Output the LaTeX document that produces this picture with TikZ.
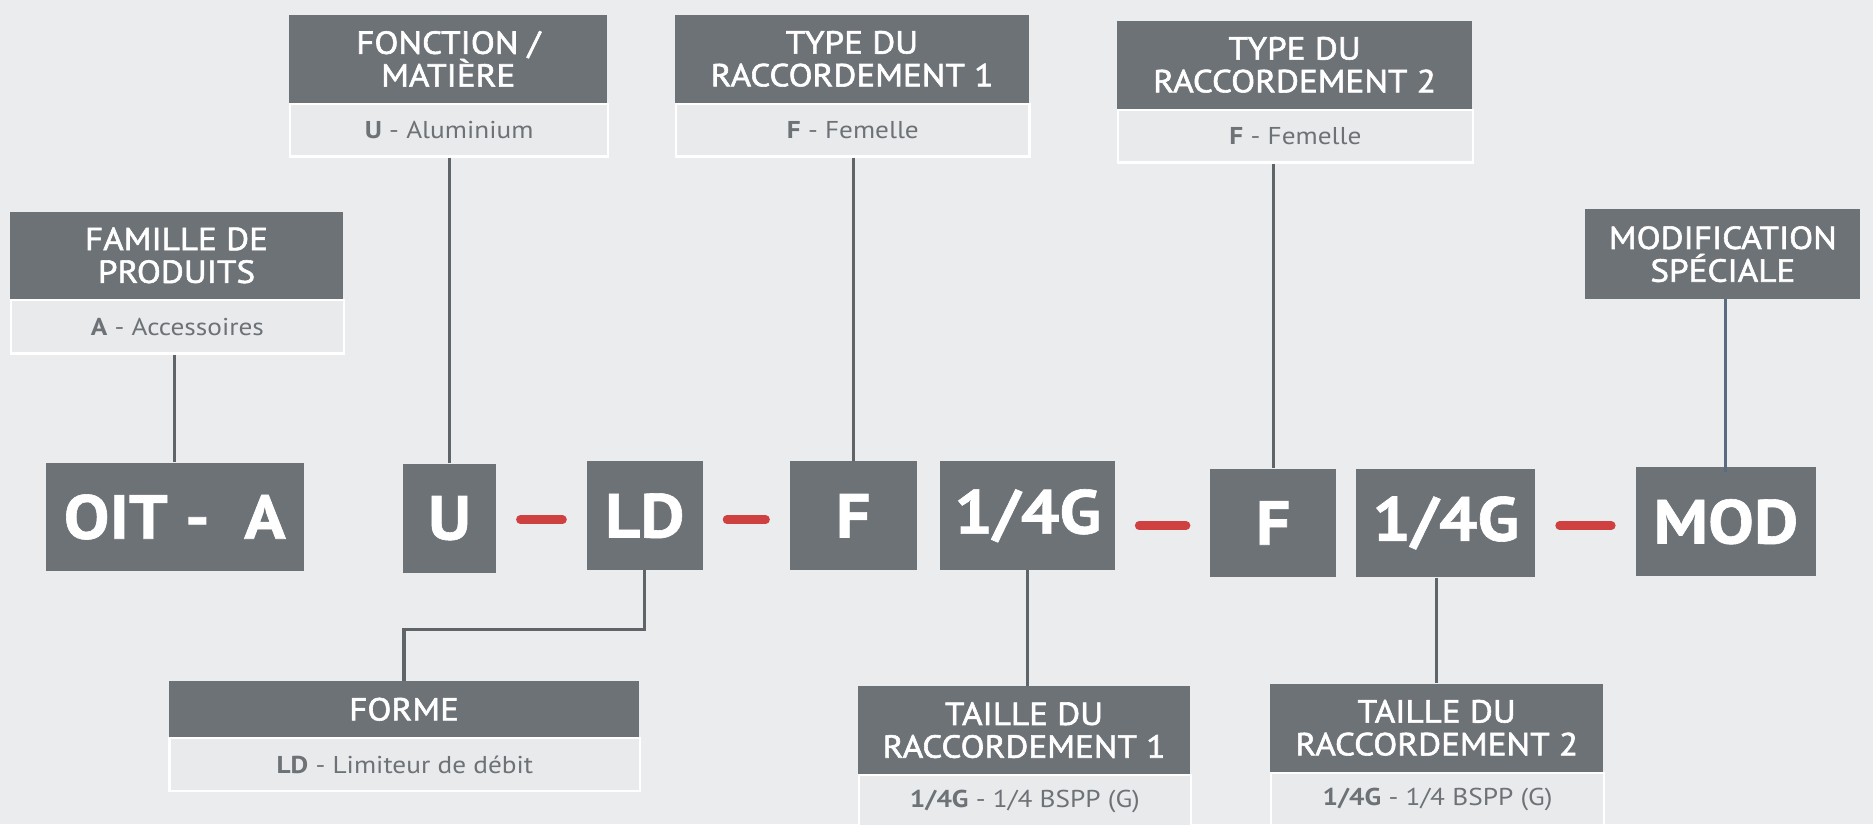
\documentclass[tikz,border=0pt]{standalone}
\usepackage{fontspec}
\setmainfont{PT Sans}
\newfontfamily\hdrfont[FakeStretch=1.1, FakeBold=1.8]{PT Sans}
\newfontfamily\subfont[FakeStretch=1.12]{PT Sans}
\newfontfamily\codefont[FakeStretch=1.1, FakeBold=1]{PT Sans}
\definecolor{bg}{HTML}{EBECEE}
\definecolor{dark}{HTML}{6D7276}
\definecolor{light}{HTML}{E9EAEC}
\definecolor{subtxt}{HTML}{6D7276}
\definecolor{redd}{HTML}{CF4141}
\definecolor{linec}{HTML}{5F6468}
\definecolor{linemod}{HTML}{5B6B7F}
\begin{document}
\begin{tikzpicture}[x=0.025cm,y=-0.025cm,
  sz/.style 2 args={minimum width=#1*0.025cm, minimum height=#2*0.025cm},
  hdr/.style={fill=dark, text=white, inner sep=0pt, anchor=north west, align=center,
    font=\hdrfont\fontsize{19}{19.5}\selectfont},
  sub/.style={fill=light, draw=white, line width=1.4pt, text=subtxt, inner sep=0pt,
    anchor=north west, font=\subfont\fontsize{14.5}{17}\selectfont},
  code/.style={fill=dark, text=white, inner sep=0pt, anchor=north west,
    font=\codefont\fontsize{37}{40}\selectfont\bfseries},
  conn/.style={draw=linec, line width=1.9pt},
  reddash/.style={draw=redd, line width=5pt, line cap=round, shorten <=0.5cm, shorten >=0.5cm}]
\fill[bg] (0,0) rectangle (1568,690);
\useasboundingbox (0,0) rectangle (1568,690);
\clip (0,0) rectangle (1568,690);

% top label boxes
\node[hdr, sz={279}{73}] (famh) at (8,177) {FAMILLE DE\\PRODUITS};
\node[sub, sz={279}{45}] (fams) at (8,250) {\textbf{A} - Accessoires};
\node[hdr, sz={266}{74}] (fonh) at (242,12) {FONCTION /\\MATIÈRE};
\node[sub, sz={266}{44}] (fons) at (242,86) {\textbf{U} - Aluminium};
\node[hdr, sz={296}{74}] (t1h) at (565,12) {TYPE DU\\RACCORDEMENT 1};
\node[sub, sz={296}{44}] (t1s) at (565,86) {\textbf{F} - Femelle};
\node[hdr, sz={297}{74}] (t2h) at (935,17) {TYPE DU\\RACCORDEMENT 2};
\node[sub, sz={297}{44}] (t2s) at (935,91) {\textbf{F} - Femelle};
\node[hdr, sz={230}{75}] (modh) at (1327,175) {MODIFICATION\\SPÉCIALE};

% code boxes
\node[code, sz={216}{91}] (oit) at (38,387) {OIT -\ \ A};
\node[code, sz={78}{91}] (u) at (337,388) {U};
\node[code, sz={97}{91}] (ld) at (491,386) {LD};
\node[code, sz={106}{91}] (f1) at (661,386) {F};
\node[code, sz={146}{91}] (g1) at (787,386) {1/4G};
\node[code, sz={105}{91}] (f2) at (1013,392) {F};
\node[code, sz={150}{91}] (g2) at (1135,392) {1/4G};
\node[code, sz={151}{91}] (mod) at (1369,391) {MOD};

% bottom label boxes
\node[hdr, sz={394}{47}] (formh) at (141,570) {FORME};
\node[sub, sz={394}{44}] (forms) at (141,617) {\textbf{LD} - Limiteur de débit};
\node[hdr, sz={278}{74}] (ta1h) at (718,574) {TAILLE DU\\RACCORDEMENT 1};
\node[sub, sz={278}{44}] (ta1s) at (718,648) {\textbf{1/4G} - 1/4 BSPP (G)};
\node[hdr, sz={279}{74}] (ta2h) at (1063,572) {TAILLE DU\\RACCORDEMENT 2};
\node[sub, sz={279}{44}] (ta2s) at (1063,646) {\textbf{1/4G} - 1/4 BSPP (G)};

% connectors
\draw[conn] (fams.south -| oit.north) -- (oit.north);
\draw[conn] (fons.south -| u.north) -- (u.north);
\draw[conn] (t1s.south -| f1.north) -- (f1.north);
\draw[conn] (t2s.south -| f2.north) -- (f2.north);
\draw[draw=linemod, line width=1.9pt] (modh.south -| mod.north) -- ([yshift=-0.1cm]mod.north);
\coordinate (bend) at (0,527);
\draw[conn] (ld.south) -- (ld.south |- bend) -| (formh.north);
\draw[conn] (g1.south) -- (g1.south |- ta1h.north);
\draw[conn] (ta2h.north |- g2.south) -- (ta2h.north);

% red dashes
\coordinate (ya) at (0,435);
\coordinate (yb) at (0,440);
\draw[reddash] (u.east |- ya) -- (ld.west |- ya);
\draw[reddash] (ld.east |- ya) -- (f1.west |- ya);
\draw[reddash] (g1.east |- yb) -- (f2.west |- yb);
\draw[reddash] (g2.east |- yb) -- (mod.west |- yb);
\end{tikzpicture}
\end{document}
